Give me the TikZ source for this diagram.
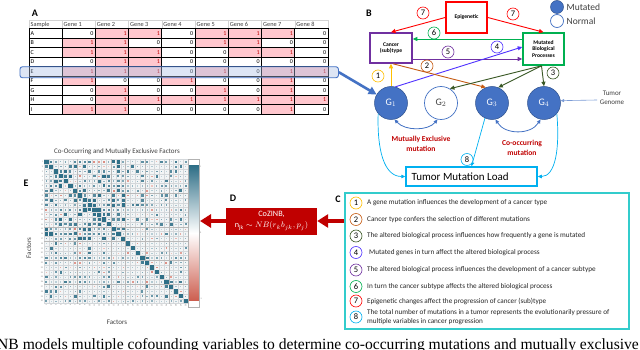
\documentclass[tikz,border=0pt]{standalone}
\usepackage{fontspec}
\setmainfont{Carlito}
\newfontfamily\capfont{Liberation Serif}
\usetikzlibrary{arrows.meta,calc}
\newcommand\myfs[2]{\fontsize{#1}{#2}\selectfont}
\definecolor{cgold}{RGB}{255,192,0}
\definecolor{corange}{RGB}{197,90,17}
\definecolor{cdgreen}{RGB}{56,87,35}
\definecolor{cviolet}{RGB}{80,50,255}
\definecolor{cpurple}{RGB}{112,48,160}
\definecolor{cgreen}{RGB}{0,176,80}
\definecolor{cred}{RGB}{255,0,0}
\definecolor{ccyan}{RGB}{0,176,240}
\definecolor{cblue}{RGB}{68,114,196}
\definecolor{cbluedk}{RGB}{47,82,143}
\definecolor{cdarkred}{RGB}{192,0,0}
\definecolor{cturq}{RGB}{51,204,204}
\definecolor{pinkfill}{RGB}{255,199,206}
\definecolor{pinktext}{RGB}{192,0,0}
\definecolor{hmteal}{RGB}{47,111,135}
\definecolor{hmred}{RGB}{205,95,80}
\definecolor{hmbg}{RGB}{243,245,246}
\definecolor{hmgrid}{RGB}{212,216,219}
\definecolor{txtgray}{RGB}{64,64,64}
\tikzset{
  lbl/.style={font=\bfseries\myfs{10}{10}, inner sep=0pt},
  numc/.style={circle, draw=#1, line width=0.6pt, fill=white, inner sep=0pt, minimum size=12pt, font=\myfs{8.5}{8.5}},
  bbox/.style={draw=#1, line width=1.6pt, fill=white, align=center, inner sep=1pt, font=\bfseries\myfs{5.6}{6.6}},
  arr/.style={draw=#1, line width=0.9pt, -{Triangle[length=4.5pt,width=4pt]}},
  gmut/.style={circle, fill=cblue, draw=cbluedk, line width=0.5pt, minimum size=33pt, inner sep=0pt, text=white, font=\myfs{10}{10}},
  gnorm/.style={circle, fill=white, draw=cblue, line width=0.7pt, minimum size=33pt, inner sep=0pt, text=txtgray, font=\myfs{10}{10}},
  cell0/.style={draw=black, line width=0.7pt, fill=white, minimum width=33.25pt, minimum height=9.5pt, inner sep=0pt, outer sep=0pt},
  cell1/.style={cell0, fill=pinkfill},
  celltxt0/.style={font=\myfs{6}{6}, text=black, inner sep=0pt},
  celltxt1/.style={celltxt0, text=pinktext},
  hcell/.style={draw=gray!35, line width=0.4pt, fill=white, minimum width=33.25pt, minimum height=8.5pt, inner sep=0pt, outer sep=0pt},
  htxt/.style={font=\myfs{6.3}{6.3}, text=txtgray, inner sep=0pt},
  ctext/.style={font=\myfs{7.2}{9.6}, text=black!85, inner sep=0pt, align=left},
  redlab/.style={font=\bfseries\myfs{7.6}{10}, text=cdarkred, align=center, inner sep=0pt},
  cyarr/.style={draw=ccyan, line width=0.7pt, -{Triangle[length=4pt,width=3.5pt]}},
  marr/.style={draw=cblue, line width=0.8pt, {Triangle[length=4pt,width=3.5pt]}-{Triangle[length=4pt,width=3.5pt]}},
  bigarr/.style={draw=cdarkred, line width=4pt, -{Triangle[length=11pt,width=13pt]}},
  tick/.style={font=\myfs{2.2}{2.2}, text=gray, inner sep=0.3pt}
}
\newcommand\gcell[3]{%
  \pgfmathsetmacro\ytop{28.5+9.5*(#1-1)}%
  \pgfmathsetmacro\xl{62+33.25*(#2-1)}%
  \node[cell#3, anchor=north west] (c#1-#2) at (\xl,\ytop) {};
  \node[celltxt#3, anchor=east] (t#1-#2) at (\xl+31.5,\ytop+5) {#3};
}
\begin{document}
\begin{tikzpicture}[x=1pt,y=-1pt]
\useasboundingbox (0,0) rectangle (640,350);
\fill[white] (0,0) rectangle (640,350);

% ---------------- Panel A: table ----------------
\node[lbl] (labA) at (35,13) {A};
\node[hcell, minimum width=33pt, anchor=north west] (hs) at (29,20) {};
\node[htxt, anchor=west] (hst) at (30.5,24.5) {Sample};
\foreach \c in {1,...,8}{
  \node[hcell, anchor=north west] (h\c) at ({62+33.25*(\c-1)},20) {};
  \node[htxt, anchor=west] (ht\c) at ({63.5+33.25*(\c-1)},24.5) {Gene \c};
}
\foreach \lab [count=\r] in {A,B,C,D,E,F,G,H,I}{
  \node[cell0, minimum width=33pt, anchor=north west] (s\r) at (29,{28.5+9.5*(\r-1)}) {};
  \node[celltxt0, anchor=west] (sl\r) at (30.5,{33.5+9.5*(\r-1)}) {\lab};
}
\foreach \v [count=\c] in {0,1,1,0,1,1,1,0}{\gcell{1}{\c}{\v}}
\foreach \v [count=\c] in {1,1,0,0,1,1,0,0}{\gcell{2}{\c}{\v}}
\foreach \v [count=\c] in {1,1,1,0,0,1,1,0}{\gcell{3}{\c}{\v}}
\foreach \v [count=\c] in {0,1,1,0,0,0,0,0}{\gcell{4}{\c}{\v}}
\foreach \v [count=\c] in {1,1,1,0,1,0,1,1}{\gcell{5}{\c}{\v}}
\foreach \v [count=\c] in {1,0,0,1,0,0,1,0}{\gcell{6}{\c}{\v}}
\foreach \v [count=\c] in {0,1,0,0,1,0,1,0}{\gcell{7}{\c}{\v}}
\foreach \v [count=\c] in {0,1,1,1,1,1,1,1}{\gcell{8}{\c}{\v}}
\foreach \v [count=\c] in {1,1,0,0,0,0,1,0}{\gcell{9}{\c}{\v}}
\node[draw=cblue, line width=0.9pt, fill=cblue!45, fill opacity=0.4, rounded corners=2.5pt,
      minimum width=318.5pt, minimum height=11pt, inner sep=0pt, anchor=north west] (hl) at (19.5,66.3) {};

% ---------------- Panel B ----------------
\node[lbl] (labB) at (369,13) {B};
\node[bbox=cred, minimum width=41pt, minimum height=31pt] (epi) at (466.5,17.5) {Epigenetic};
\node[bbox=cpurple, minimum width=42pt, minimum height=30pt] (can) at (391,48) {Cancer\\(sub)type};
\node[bbox=cgreen, minimum width=41pt, minimum height=32pt] (bio) at (543.5,49) {Mutated\\Biological\\Processes};

\node[gmut] (G1) at (391,103) {G$_1$};
\node[gnorm] (G2) at (441,103) {G$_2$};
\node[gmut] (G3) at (492,103) {G$_3$};
\node[gmut] (G4) at (544,103) {G$_4$};

% legend
\node[circle, fill=cblue, draw=cbluedk, line width=0.5pt, minimum size=13pt, inner sep=0pt] (legm) at (557,7) {};
\node[anchor=west, font=\myfs{9.5}{9.5}, text=txtgray, inner sep=0pt] (legmt) at (566.5,7) {Mutated};
\node[circle, fill=white, draw=cblue, line width=0.7pt, minimum size=13pt, inner sep=0pt] (legn) at (557,21) {};
\node[anchor=west, font=\myfs{9.5}{9.5}, text=txtgray, inner sep=0pt] (legnt) at (566.5,21) {Normal};

% arrows
\draw[arr=cred] (epi.west) -- (can.north);
\draw[arr=cred] (epi.east) -- (bio.north);
\draw[arr=cgreen] ($(bio.west)+(0,-10)$) -- ($(can.east)+(0,-9)$);
\draw[arr=cpurple] ($(can.east)+(0,11)$) -- ($(bio.west)+(0,10)$);
\draw[arr=cviolet] (G1.75) -- ($(bio.west)+(0,-2)$);
\draw[arr=cgold] (G1.north) -- (can.south);
\draw[arr=corange] ($(can.south)+(2,0)$) -- (G3.112);
\draw[arr=cdgreen] ($(bio.south)+(-2,0)$) -- (G4.north);
\draw[arr=cdgreen] ($(bio.south)+(-2,0)$) -- (G3.68);
\draw[arr=cdgreen] ($(bio.south)+(-2,0)$) -- (G2.58);

\node[numc=cred] (n7a) at (423,13) {7};
\node[numc=cred] (n7b) at (513,14) {7};
\node[numc=cgreen] (n6) at (434,33) {6};
\node[numc=cpurple] (n5) at (448,52) {5};
\node[numc=cviolet] (n4) at (497,47) {4};
\node[numc=corange] (n2) at (427,66) {2};
\node[numc=cgold] (n1) at (378,76) {1};
\node[numc=cdgreen] (n3) at (553,73) {3};

% blue arrow from the table row
\draw[draw=cblue, line width=2.6pt, -{Triangle[length=8pt,width=8pt]}] (hl.east) -- (G1);

% tumor genome
\node[align=center, font=\myfs{7}{8.5}, text=txtgray, inner sep=0pt] (gen) at (612,98) {Tumor\\Genome};
\draw[draw=cblue!70, line width=0.6pt, -{Triangle[length=3.5pt,width=3pt]}] (597,100) coordinate (genin) -- (G4.8);

% exclusive / co-occurring
\draw[marr] (G1.-78) .. controls (405,131) and (428,131) .. (G2.-102);
\draw[marr] (G3.-78) .. controls (505,135) and (531,135) .. (G4.-102);
\node[redlab] (mex) at (421,144) {Mutually Exclusive\\mutation};
\node[redlab] (coo) at (522,148) {Co-occurring\\mutation};

% tumor mutation load
\node[draw=ccyan, line width=1.5pt, minimum width=131pt, minimum height=19pt, inner sep=0pt, fill=white] (tml) at (471.5,176.5) {};
\node[anchor=west, font=\myfs{11}{11}, inner sep=0pt] (tmlt) at (411.5,177) {Tumor Mutation Load};
\draw[cyarr] (G1.-140) .. controls (377,150) and (384,176.5) .. (tml.west);
\draw[cyarr] (G4.-40) .. controls (560,150) and (555,176.5) .. (tml.east);
\draw[cyarr] (G3.-115) -- (tml.north);
\node[numc=ccyan] (n8) at (467,159.5) {8};

% ---------------- Panel C ----------------
\node[lbl] (labC) at (338,199) {C};
\node[draw=cturq, line width=1.8pt, minimum width=284pt, minimum height=136pt, inner sep=0pt, anchor=north west] (cbox) at (344,192) {};
\node[numc=cgold] (c1) at (356,203) {1};
\node[ctext, anchor=west] (ct1) at (367,203) {A gene mutation influences the development of a cancer type};
\node[numc=corange] (c2) at (356,219.5) {2};
\node[ctext, anchor=west] (ct2) at (367,219.5) {Cancer type confers the selection of different mutations};
\node[numc=cdgreen] (c3) at (356,236) {3};
\node[ctext, anchor=west] (ct3) at (367,236) {The altered biological process influences how frequently a gene is mutated};
\node[numc=cviolet] (c4) at (356,252.5) {4};
\node[ctext, anchor=west] (ct4) at (369,252.5) {Mutated genes in turn affect the altered biological process};
\node[numc=cpurple] (c5) at (356,270) {5};
\node[ctext, anchor=west] (ct5) at (367,270) {The altered biological process influences the development of a cancer subtype};
\node[numc=cgreen] (c6) at (356,286.5) {6};
\node[ctext, anchor=west] (ct6) at (367,286.5) {In turn the cancer subtype affects the altered biological process};
\node[numc=cred] (c7) at (356,301) {7};
\node[ctext, anchor=west] (ct7) at (367,301) {Epigenetic changes affect the progression of cancer (sub)type};
\node[numc=ccyan] (c8) at (356,317) {8};
\node[ctext, anchor=west] (ct8) at (367,317) {The total number of mutations in a tumor represents the evolutionarily pressure of\\multiple variables in cancer progression};

% ---------------- Panel D ----------------
\node[lbl] (labD) at (233,198) {D};
\node[fill=cdarkred, minimum width=91pt, minimum height=27pt, inner sep=0pt, text=white, align=center, font=\myfs{8.2}{11}] (dbox) at (271.5,221) {CoZINB,\\$\mathrm{n}_{\mathrm{jk}}\sim NB(r_k b_{jk},p_j)$};
\coordinate (cin) at ($(cbox.north west)+(0,29)$);
\draw[bigarr] (cin) -- (dbox.east);
\coordinate (hmin) at (200,221);
\draw[bigarr] (dbox.west) -- (hmin);

% ---------------- Panel E: heatmap ----------------
\node[lbl] (labE) at (26,183) {E};
\node[font=\myfs{7}{7}, text=txtgray, inner sep=0pt] (hmtitle) at (117,152) {Co-Occurring and Mutually Exclusive Factors};
\node[font=\myfs{7}{7}, text=txtgray, inner sep=0pt] (xlab) at (117,322) {Factors};
\node[font=\myfs{7}{7}, text=txtgray, inner sep=0pt, rotate=90] (ylab) at (29,248) {Factors};
\fill[hmbg] (44,159.5) rectangle (188,303.5);
\foreach \k in {0,...,30}{
  \draw[hmgrid, line width=0.25pt] ({44+4.8*\k},159.5) -- ({44+4.8*\k},303.5);
  \draw[hmgrid, line width=0.25pt] (44,{159.5+4.8*\k}) -- (188,{159.5+4.8*\k});
}
\foreach \k in {7,14,17,21,26}{
  \draw[gray!55, line width=0.4pt] ({44+4.8*\k},159.5) -- ({44+4.8*\k},303.5);
  \draw[gray!55, line width=0.4pt] (44,{159.5+4.8*\k}) -- (188,{159.5+4.8*\k});
}
\pgfmathsetseed{11}
\foreach \i in {2,...,30}{
  \pgfmathtruncatemacro\jm{\i-1}
  \foreach \j in {1,...,\jm}{
    \pgfmathsetmacro\u{rnd}
    \pgfmathsetmacro\w{rnd}
    \pgfmathtruncatemacro\blk{and(\i<17.5,\j<17.5)}
    \pgfmathtruncatemacro\neg{\w<0.08}
    \ifnum\blk=1
      \pgfmathsetmacro\v{0.12+0.65*\u}
    \else
      \pgfmathsetmacro\v{0.06+0.55*\u*\u}
    \fi
    \ifnum\neg=1 \pgfmathsetmacro\v{0.1+0.35*\u}\fi
    \pgfmathsetmacro\h{max(0.6,\v*2.3)}
    \pgfmathtruncatemacro\pct{min(100,25+\v*110)}
    \ifnum\neg=1 \def\col{hmred!\pct!white}\else\def\col{hmteal!\pct!white}\fi
    \fill[fill=\col] ({44+4.8*(\j-0.5)-\h},{159.5+4.8*(\i-0.5)-\h}) rectangle +({2*\h},{2*\h});
    \fill[fill=\col] ({44+4.8*(\i-0.5)-\h},{159.5+4.8*(\j-0.5)-\h}) rectangle +({2*\h},{2*\h});
  }
}
\foreach \i in {1,...,30}{
  \fill[hmteal] ({44+4.8*(\i-1)+0.3},{159.5+4.8*(\i-1)+0.3}) rectangle +(4.2,4.2);
  \node[tick, anchor=east] (yt\i) at (43.5,{159.5+4.8*(\i-0.5)}) {\i};
  \node[tick, anchor=east, rotate=90] (xt\i) at ({44+4.8*(\i-0.5)},304) {\i};
}
% colour bar
\fill[white] (188,159.5) rectangle (199,307);
\shade[top color=hmteal, bottom color=white] (188,166) rectangle (199,233);
\shade[top color=white, bottom color=hmred] (188,233) rectangle (199,300);
\draw[gray!60, line width=0.3pt] (188,159.5) rectangle (199,307);
\node[tick, anchor=west] (cb1) at (199.5,167) {1};
\node[tick, anchor=west] (cb0) at (199.5,233) {0};
\node[tick, anchor=west] (cbm) at (199.5,299) {-1};

% ---------------- caption line (cut off, as in the reference) ----------------
\begin{scope}
\clip (0,0) rectangle (640,350);
\node[anchor=base west, font=\capfont\myfs{15.6}{15.6}, inner sep=0pt] (cap) at (-3,349) {NB models multiple cofounding variables to determine co-occurring mutations and mutually exclusive};
\end{scope}
\end{tikzpicture}
\end{document}
